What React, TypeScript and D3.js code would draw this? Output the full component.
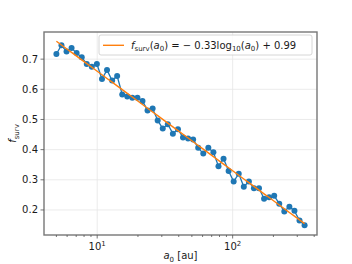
import React, { useEffect, useRef } from "react"
import * as d3 from "d3"

// semi-major axis samples [au]
const a0 = [
  5.0, 5.45, 5.94, 6.47, 7.05, 7.69, 8.38, 9.13, 9.95, 10.85,
  11.82, 12.89, 14.04, 15.31, 16.68, 18.18, 19.82, 21.6, 23.54, 25.66,
  27.97, 30.48, 33.22, 36.21, 39.47, 43.02, 46.89, 51.1, 55.7, 60.7,
  66.16, 72.11, 78.6, 85.66, 93.37, 101.76, 110.91, 120.88, 131.75, 143.6,
  156.51, 170.58, 185.92, 202.64, 220.86, 240.71, 262.36, 285.95, 311.66, 339.68,
]
// surviving fraction
const fsurv = [
  0.717, 0.746, 0.725, 0.737, 0.72, 0.706, 0.684, 0.675, 0.684, 0.634,
  0.664, 0.629, 0.644, 0.583, 0.576, 0.572, 0.572, 0.561, 0.53, 0.536,
  0.497, 0.47, 0.484, 0.453, 0.468, 0.44, 0.437, 0.434, 0.406, 0.387,
  0.406, 0.391, 0.345, 0.37, 0.329, 0.294, 0.32, 0.277, 0.294, 0.272,
  0.272, 0.237, 0.242, 0.247, 0.221, 0.195, 0.211, 0.197, 0.165, 0.149,
]
const fitSlope = -0.33
const fitIntercept = 0.99
const yTicks = [0.2, 0.3, 0.4, 0.5, 0.6, 0.7]
const xMajor = [10, 100]
const xMinor = [5, 6, 7, 8, 9, 20, 30, 40, 50, 60, 70, 80, 90, 200, 300, 400]

const W = 352, H = 264
const m = { left: 44, right: 317, top: 32, bottom: 235 }
const FONT = "DejaVu Sans"

export default function App() {
  const ref = useRef<SVGSVGElement>(null)

  useEffect(() => {
    const svg = d3.select(ref.current)
    svg.selectAll("*").remove()

    const x = d3.scaleLog().domain([4.05, 419.5]).range([m.left, m.right])
    const y = d3.scaleLinear().domain([0.117, 0.79]).range([m.bottom, m.top])

    svg.append("rect").attr("width", W).attr("height", H).attr("fill", "white")

    // grid
    const grid = svg.append("g").attr("stroke", "#e6e6e6").attr("stroke-width", 0.8)
    xMajor.forEach(t => {
      grid.append("line").attr("x1", x(t)).attr("x2", x(t)).attr("y1", m.top).attr("y2", m.bottom)
    })
    yTicks.forEach(t => {
      grid.append("line").attr("x1", m.left).attr("x2", m.right).attr("y1", y(t)).attr("y2", y(t))
    })

    // data line + markers
    const pts = a0.map((a, i) => [a, fsurv[i]] as [number, number])
    svg.append("path")
      .attr("d", d3.line<[number, number]>().x(d => x(d[0])).y(d => y(d[1]))(pts))
      .attr("fill", "none").attr("stroke", "#1f77b4").attr("stroke-width", 1.3)
    svg.append("g").selectAll("circle").data(pts).enter().append("circle")
      .attr("cx", d => x(d[0])).attr("cy", d => y(d[1])).attr("r", 3)
      .attr("fill", "#1f77b4")

    // fit
    const fit = a0.map(a => [a, fitSlope * Math.log10(a) + fitIntercept] as [number, number])
    svg.append("path")
      .attr("d", d3.line<[number, number]>().x(d => x(d[0])).y(d => y(d[1]))(fit))
      .attr("fill", "none").attr("stroke", "#ff7f0e").attr("stroke-width", 1.4)

    // spines
    svg.append("rect")
      .attr("x", m.left).attr("y", m.top)
      .attr("width", m.right - m.left).attr("height", m.bottom - m.top)
      .attr("fill", "none").attr("stroke", "#777").attr("stroke-width", 1.4)

    // ticks
    const tk = svg.append("g").attr("stroke", "#555").attr("stroke-width", 0.8)
    xMajor.forEach(t => {
      tk.append("line").attr("x1", x(t)).attr("x2", x(t)).attr("y1", m.bottom).attr("y2", m.bottom + 3.5)
    })
    xMinor.forEach(t => {
      tk.append("line").attr("x1", x(t)).attr("x2", x(t)).attr("y1", m.bottom).attr("y2", m.bottom + 2)
    })
    yTicks.forEach(t => {
      tk.append("line").attr("x1", m.left - 3.5).attr("x2", m.left).attr("y1", y(t)).attr("y2", y(t))
    })

    const txt = svg.append("g").attr("font-family", FONT).attr("font-size", 10).attr("fill", "#1a1a1a")
    yTicks.forEach(t => {
      txt.append("text").attr("x", m.left - 6).attr("y", y(t)).attr("dy", "0.35em")
        .attr("text-anchor", "end").text(d3.format(".1f")(t))
    })
    xMajor.forEach(t => {
      const tx = txt.append("text").attr("x", x(t)).attr("y", m.bottom + 15).attr("text-anchor", "middle")
      tx.append("tspan").text("10")
      tx.append("tspan").attr("font-size", 7).attr("dy", -4).text(String(Math.round(Math.log10(t))))
    })

    // axis labels
    const xl = txt.append("text").attr("x", (m.left + m.right) / 2).attr("y", 259).attr("text-anchor", "middle")
    xl.append("tspan").attr("font-style", "italic").text("a")
    xl.append("tspan").attr("font-size", 7).attr("dy", 2.5).text("0")
    xl.append("tspan").attr("dy", -2.5).text(" [au]")

    const yl = txt.append("text").attr("transform", `translate(16,${(m.top + m.bottom) / 2}) rotate(-90)`)
      .attr("text-anchor", "middle")
    yl.append("tspan").attr("font-style", "italic").text("f")
    yl.append("tspan").attr("font-size", 7).attr("dy", 2.5).text("surv")

    // legend
    const lg = svg.append("g")
    lg.append("rect").attr("x", 99).attr("y", 35).attr("width", 213).attr("height", 20).attr("rx", 2)
      .attr("fill", "white").attr("fill-opacity", 0.8).attr("stroke", "#ccc").attr("stroke-width", 0.8)
    lg.append("line").attr("x1", 103).attr("x2", 124).attr("y1", 45.3).attr("y2", 45.3)
      .attr("stroke", "#ff7f0e").attr("stroke-width", 1.4)
    const lt = lg.append("text").attr("x", 131).attr("y", 48.8)
      .attr("font-family", FONT).attr("font-size", 10).attr("fill", "#1a1a1a")
    lt.append("tspan").attr("font-style", "italic").text("f")
    lt.append("tspan").attr("font-size", 7).attr("dy", 2.5).text("surv")
    lt.append("tspan").attr("dy", -2.5).text("(")
    lt.append("tspan").attr("font-style", "italic").text("a")
    lt.append("tspan").attr("font-size", 7).attr("dy", 2.5).text("0")
    lt.append("tspan").attr("dy", -2.5).text(") = \u2212 0.33log")
    lt.append("tspan").attr("font-size", 7).attr("dy", 2.5).text("10")
    lt.append("tspan").attr("dy", -2.5).text("(")
    lt.append("tspan").attr("font-style", "italic").text("a")
    lt.append("tspan").attr("font-size", 7).attr("dy", 2.5).text("0")
    lt.append("tspan").attr("dy", -2.5).text(") + 0.99")
  }, [])

  return (
    <svg ref={ref} width={W} height={H}
      style={{ position: "absolute", left: 0, top: 0, display: "block" }} />
  )
}
